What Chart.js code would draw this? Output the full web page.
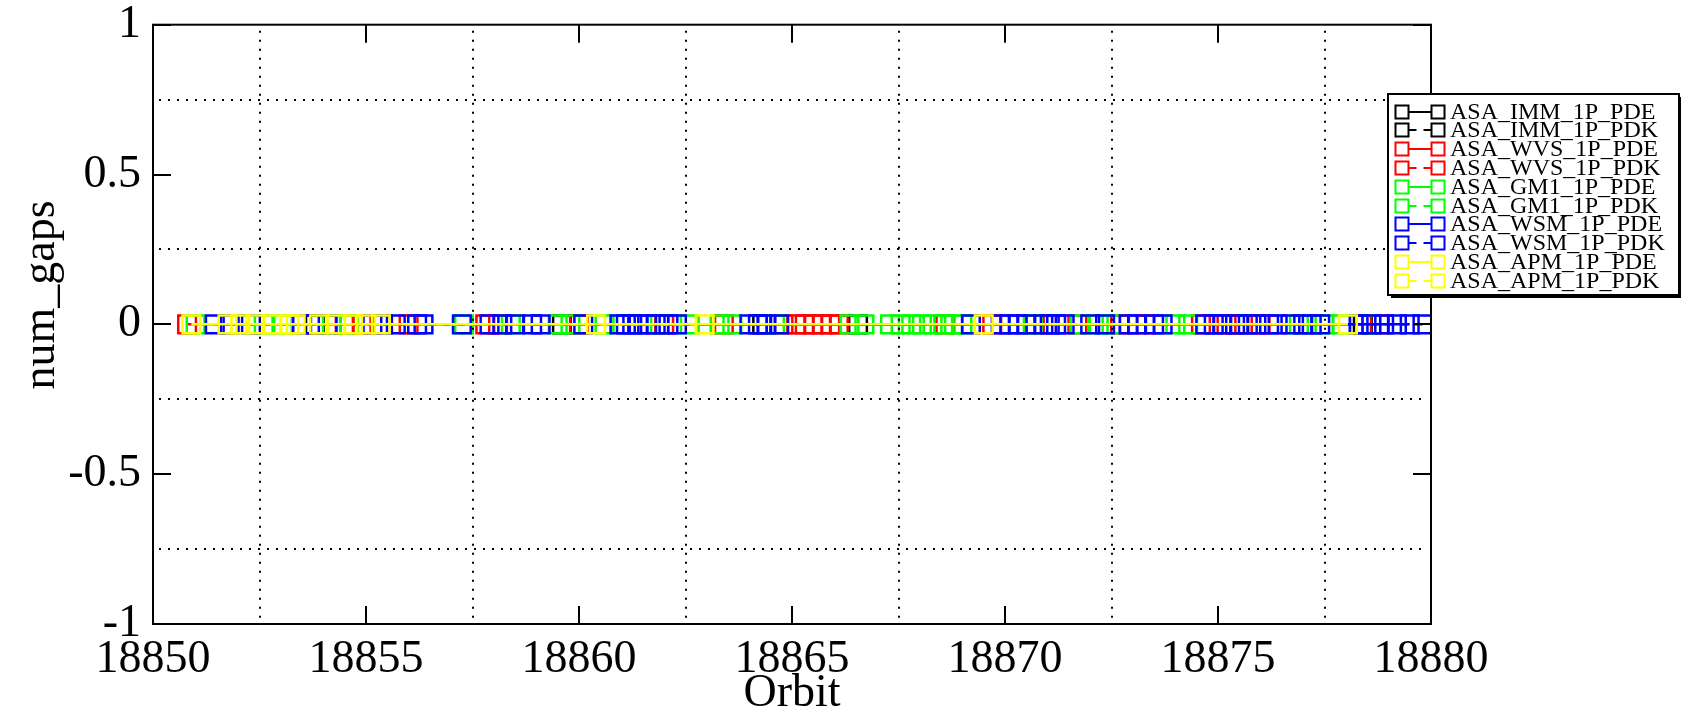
<!DOCTYPE html>
<html>
<head>
<meta charset="utf-8">
<title>num_gaps per orbit</title>
<script src="https://cdn.jsdelivr.net/npm/chart.js@4/dist/chart.umd.min.js"></script>
<style>
    html, body { margin: 0; padding: 0; background: #ffffff; }
</style>
</head>
<body>
<canvas id="gapsChart" width="1681" height="722"></canvas>
<script>
'use strict';

var seriesNames = [
    'ASA_IMM_1P_PDE', 'ASA_IMM_1P_PDK',
    'ASA_WVS_1P_PDE', 'ASA_WVS_1P_PDK',
    'ASA_GM1_1P_PDE', 'ASA_GM1_1P_PDK',
    'ASA_WSM_1P_PDE', 'ASA_WSM_1P_PDK',
    'ASA_APM_1P_PDE', 'ASA_APM_1P_PDK'
];
var seriesColors = [
    '#000000', '#000000',
    '#ff0000', '#ff0000',
    '#00ff00', '#00ff00',
    '#0000ff', '#0000ff',
    '#ffff00', '#ffff00'
];

// orbit of every product seen, per series
var immPdeOrbits = [18853.8, 18859.6, 18866.55, 18875.5];
var immPdkOrbits = [18864.3, 18878.4];
var wvsPdeOrbits = [18850.8, 18854.5, 18856.0, 18857.8, 18860.0, 18863.4, 18865.1, 18865.5, 18865.9,
    18868.6, 18870.7, 18872.7, 18874.6, 18876.0];
var wvsPdkOrbits = [18854.9, 18858.1, 18862.0, 18864.8, 18865.3, 18865.7, 18866.1, 18869.7, 18871.7,
    18873.3, 18875.2, 18878.8];
var gm1PdeOrbits = [18851.0, 18853.05, 18854.6, 18858.4, 18859.8, 18861.9, 18863.3, 18864.6, 18866.7,
    18867.3, 18867.8, 18868.3, 18868.8, 18870.65, 18872.2, 18874.0, 18876.9, 18877.9];
var gm1PdkOrbits = [18852.6, 18854.2, 18857.3, 18859.5, 18860.6, 18862.6, 18863.6, 18866.35, 18867.55,
    18868.05, 18868.55, 18869.0, 18871.75, 18872.5, 18874.3, 18877.5, 18878.6];
var wsmPdeOrbits = [18851.45, 18852.3, 18854.1, 18855.4, 18856.2, 18857.25, 18858.2, 18858.9, 18860.1,
    18861.1, 18861.4, 18861.8, 18862.3, 18864.2, 18864.7, 18869.9, 18870.3, 18870.9, 18871.2, 18872.0,
    18872.9, 18873.5, 18874.7, 18875.1, 18875.7, 18876.2, 18876.7, 18877.2, 18878.3, 18878.9, 18879.5];
var wsmPdkOrbits = [18851.8, 18853.5, 18855.15, 18855.7, 18856.35, 18857.9, 18858.5, 18859.1, 18860.95,
    18861.25, 18861.6, 18862.1, 18864.0, 18864.4, 18869.2, 18870.1, 18870.5, 18871.05, 18871.4, 18872.35,
    18873.1, 18873.7, 18874.9, 18875.4, 18875.9, 18876.4, 18877.0, 18877.4, 18878.6, 18879.2, 18879.8];
var apmPdeOrbits = [18850.9, 18851.75, 18852.4, 18853.2, 18853.9, 18854.7, 18855.35, 18860.4, 18869.5,
    18878.05];
var apmPdkOrbits = [18852.05, 18852.8, 18853.35, 18854.3, 18855.0, 18862.95];

// every product in the plot reports zero gaps
var numGaps = 0;

var xTicks = [18850, 18855, 18860, 18865, 18870, 18875, 18880];
var yTicks = [-1, -0.5, 0, 0.5, 1];

var seriesOrbits = [
    immPdeOrbits, immPdkOrbits, wvsPdeOrbits, wvsPdkOrbits, gm1PdeOrbits,
    gm1PdkOrbits, wsmPdeOrbits, wsmPdkOrbits, apmPdeOrbits, apmPdkOrbits
];

var serif = '"Liberation Serif", "DejaVu Serif", serif';

var isDashed = function (name) {
    return name.slice(-3) === 'PDK';
};

var datasets = seriesNames.map(function (name, i) {
    return {
        label: name,
        data: seriesOrbits[i].map(function (orbit) {
            return { x: orbit, y: numGaps };
        }),
        showLine: true,
        borderColor: seriesColors[i],
        backgroundColor: 'rgba(0,0,0,0)',
        borderWidth: 2.5,
        borderDash: isDashed(name) ? [8, 7] : [],
        pointStyle: 'rect',
        pointRadius: 12.5,
        pointBorderWidth: 2.5,
        pointBorderColor: seriesColors[i],
        pointBackgroundColor: 'rgba(0,0,0,0)',
        // later sets end up on top, like in grace
        order: seriesNames.length - i
    };
});

var graceLook = {
    id: 'graceLook',
    afterDatasetsDraw: function (chart) {
        var ctx = chart.ctx;
        var area = chart.chartArea;
        var xs = chart.scales.x;
        var ys = chart.scales.y;
        var i, p;

        ctx.save();
        ctx.strokeStyle = '#000000';

        // dotted grid half way between the major ticks
        ctx.lineWidth = 2;
        ctx.setLineDash([2, 7]);
        ctx.beginPath();
        for (i = 0; i < xTicks.length - 1; i++) {
            p = Math.round(xs.getPixelForValue((xTicks[i] + xTicks[i + 1]) / 2));
            ctx.moveTo(p, area.top + 6);
            ctx.lineTo(p, area.bottom - 4);
        }
        for (i = 0; i < yTicks.length - 1; i++) {
            p = Math.round(ys.getPixelForValue((yTicks[i] + yTicks[i + 1]) / 2));
            ctx.moveTo(area.left + 6, p);
            ctx.lineTo(area.right - 4, p);
        }
        ctx.stroke();

        // frame and inward ticks
        ctx.setLineDash([]);
        ctx.lineWidth = 2;
        ctx.strokeRect(area.left, area.top, area.right - area.left, area.bottom - area.top);
        ctx.beginPath();
        xTicks.forEach(function (v) {
            var px = Math.round(xs.getPixelForValue(v));
            ctx.moveTo(px, area.bottom);
            ctx.lineTo(px, area.bottom - 18);
            ctx.moveTo(px, area.top);
            ctx.lineTo(px, area.top + 18);
        });
        yTicks.forEach(function (v) {
            var py = Math.round(ys.getPixelForValue(v));
            ctx.moveTo(area.left, py);
            ctx.lineTo(area.left + 18, py);
            ctx.moveTo(area.right, py);
            ctx.lineTo(area.right - 18, py);
        });
        ctx.stroke();
        ctx.restore();
    },
    afterDraw: function (chart) {
        var ctx = chart.ctx;

        ctx.save();

        // y axis title
        ctx.fillStyle = '#000000';
        ctx.font = '46px ' + serif;
        ctx.textAlign = 'center';
        ctx.textBaseline = 'alphabetic';
        ctx.translate(54, 295);
        ctx.rotate(-Math.PI / 2);
        ctx.fillText('num_gaps', 0, 0);
        ctx.setTransform(1, 0, 0, 1, 0, 0);

        // legend box with a small drop shadow
        var boxLeft = 1388, boxTop = 94, boxRight = 1679, boxBottom = 295;
        var rowTop = 111.5, rowStep = 18.8;
        ctx.fillStyle = '#000000';
        ctx.fillRect(boxLeft + 3, boxTop + 3, boxRight - boxLeft, boxBottom - boxTop);
        ctx.fillStyle = '#ffffff';
        ctx.fillRect(boxLeft, boxTop, boxRight - boxLeft, boxBottom - boxTop);
        ctx.strokeStyle = '#000000';
        ctx.lineWidth = 2;
        ctx.strokeRect(boxLeft, boxTop, boxRight - boxLeft, boxBottom - boxTop);

        ctx.font = '24px ' + serif;
        ctx.textAlign = 'left';
        ctx.textBaseline = 'middle';
        chart.data.datasets.forEach(function (ds, i) {
            var y = Math.round(rowTop + i * rowStep);
            var x1 = 1402, x2 = 1438, half = 6.5;
            ctx.strokeStyle = ds.borderColor;
            ctx.lineWidth = 2;
            ctx.setLineDash(ds.borderDash);
            ctx.beginPath();
            ctx.moveTo(x1 + half, y);
            ctx.lineTo(x2 - half, y);
            ctx.stroke();
            ctx.setLineDash([]);
            ctx.strokeRect(x1 - half, y - half, half * 2, half * 2);
            ctx.strokeRect(x2 - half, y - half, half * 2, half * 2);
            ctx.fillStyle = '#000000';
            ctx.fillText(ds.label, 1450, y + 1);
        });

        ctx.restore();
    }
};

var context = document.getElementById('gapsChart');
var chart = new Chart(context, {
    type: 'scatter',
    data: { datasets: datasets },
    options: {
        responsive: false,
        animation: false,
        events: [],
        layout: { padding: { top: 21, right: 250, bottom: 0, left: 0 } },
        elements: { line: { tension: 0 } },
        plugins: {
            legend: { display: false },
            tooltip: { enabled: false }
        },
        scales: {
            x: {
                type: 'linear',
                min: xTicks[0],
                max: xTicks[xTicks.length - 1],
                afterBuildTicks: function (scale) {
                    scale.ticks = xTicks.map(function (v) { return { value: v }; });
                },
                afterFit: function (scale) { scale.height = 98; },
                grid: { display: false },
                border: { display: false },
                ticks: {
                    color: '#000000',
                    padding: 0,
                    maxRotation: 0,
                    font: { family: serif, size: 46, lineHeight: 1.2 },
                    callback: function (v) { return String(v); }
                },
                title: {
                    display: true,
                    text: 'Orbit',
                    color: '#000000',
                    font: { family: serif, size: 46, lineHeight: 1.2 },
                    padding: { top: 0, bottom: 0 }
                }
            },
            y: {
                type: 'linear',
                min: yTicks[0],
                max: yTicks[yTicks.length - 1],
                afterBuildTicks: function (scale) {
                    scale.ticks = yTicks.map(function (v) { return { value: v }; });
                },
                afterFit: function (scale) { scale.width = 153; },
                grid: { display: false },
                border: { display: false },
                ticks: {
                    color: '#000000',
                    padding: 4,
                    font: { family: serif, size: 46, lineHeight: 0.9 },
                    callback: function (v) { return String(v); }
                }
            }
        }
    },
    plugins: [graceLook]
});
</script>
</body>
</html>
